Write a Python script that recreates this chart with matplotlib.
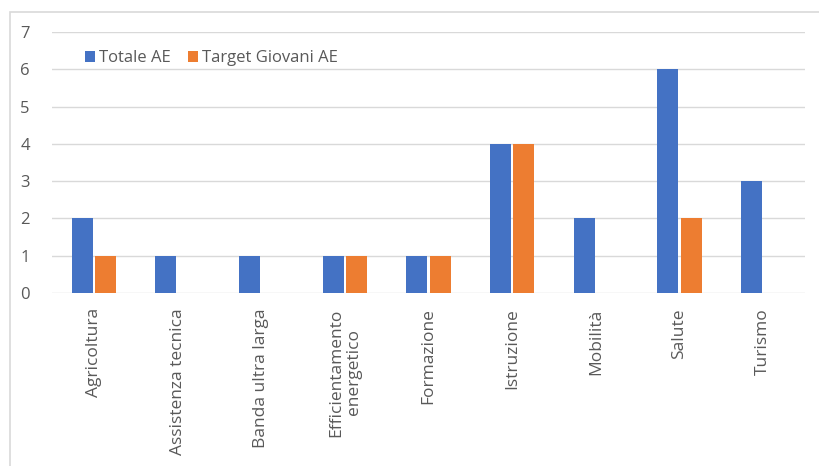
import matplotlib
matplotlib.use("Agg")
import matplotlib.pyplot as plt
import numpy as np
from matplotlib.patches import Rectangle

categories = ["Agricoltura", "Assistenza tecnica", "Banda ultra larga",
              "Efficientamento\nenergetico", "Formazione", "Istruzione",
              "Mobilità", "Salute", "Turismo"]
totale_ae = [2, 1, 1, 1, 1, 4, 2, 6, 3]
target_giovani_ae = [1, 0, 0, 1, 1, 4, 0, 2, 0]
series_names = ["Totale AE", "Target Giovani AE"]

plt.rcParams['font.family'] = ['Open Sans', 'DejaVu Sans']

fig = plt.figure(figsize=(8.19, 4.66), dpi=100)
W, H = 819, 466

# outer chart frame (open on right and bottom)
fig.add_artist(Rectangle((10 / W, -0.1), 1.2, 1 - 12 / H + 0.1,
                         transform=fig.transFigure, fill=False,
                         edgecolor="#d9d9d9", linewidth=1.2))

ax = fig.add_axes([52 / W, 1 - 293 / H, (805 - 52) / W, (293 - 32) / H])

x = np.arange(len(categories))
bw = 0.25
gap = 0.015
ax.bar(x - bw / 2 - gap, totale_ae, width=bw, color="#4472C4", label=series_names[0], zorder=3)
ax.bar(x + bw / 2 + gap, target_giovani_ae, width=bw, color="#ED7D31", label=series_names[1], zorder=3)

ax.set_xlim(-0.5, len(categories) - 0.5)
ax.set_ylim(0, 7)
ax.set_yticks(range(0, 8))
ax.grid(axis="y", color="#d9d9d9", linewidth=1.0, zorder=0)
for s in ax.spines.values():
    s.set_visible(False)
ax.tick_params(axis="both", length=0, colors="#595959")
ax.tick_params(axis="y", pad=16, labelsize=12)
ax.set_xticks(x)
ax.set_xticklabels(categories, rotation=90, va="top", ha="center",
                   linespacing=1.15, fontsize=12.5)
ax.tick_params(axis="x", pad=11)

ax.legend(loc="upper left", bbox_to_anchor=(0.035, 0.955), ncol=2, frameon=False,
          fontsize=12, handlelength=0.6, handleheight=0.6, handletextpad=0.25,
          columnspacing=1.0, labelcolor="#595959", borderaxespad=0.0)

fig.savefig("out.png", dpi=100)
